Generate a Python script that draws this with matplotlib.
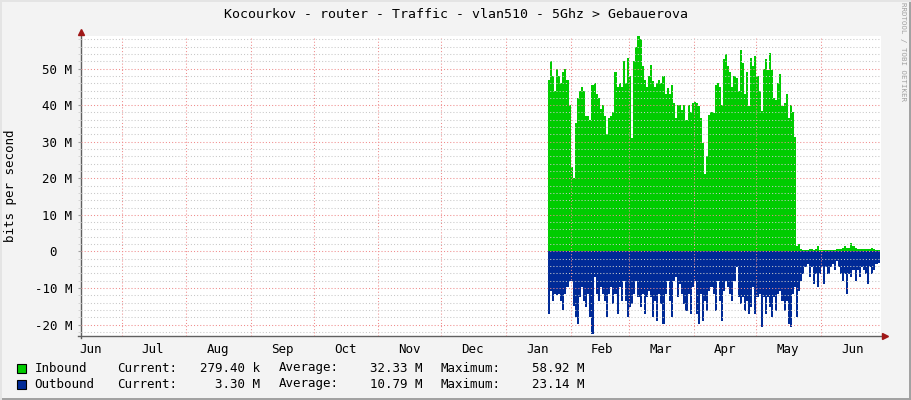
import matplotlib.pyplot as plt
import matplotlib.dates as mdates
import numpy as np
import pandas as pd
from matplotlib.lines import Line2D
from matplotlib.patches import Rectangle

title = "Kocourkov - router - Traffic - vlan510 - 5Ghz > Gebauerova"
start = "2023-01-21"  # first day with data

# daily values in Mbit/s
inbound = [
    47, 52, 48, 44, 50, 48, 46, 49, 50, 47,
    40, 23, 20, 35, 42, 44, 45, 44, 37, 37,
    36, 45.6, 46, 43, 42, 39, 40, 37, 32, 36.5,
    37, 38, 49, 45, 46, 45, 52, 46, 53, 48,
    31, 52, 56, 58.92, 58, 50.6, 47, 45, 48, 51,
    46.5, 45, 46, 47, 46, 48, 43, 44.7, 43, 45.6,
    40.5, 36.4, 40, 40, 38.7, 40, 36, 40, 38, 40.5,
    41, 40.5, 39.7, 36.4, 29.6, 21.3, 26, 37.4, 38,
    37.8, 45.6, 46, 45, 40, 52.5, 54, 50.6, 49, 45, 48,
    47.4, 44, 55.2, 51.6, 43, 49, 39.7, 53, 50.6, 53.4,
    48, 44, 38.3, 50, 52.5, 49.7, 54.3, 49.7, 42, 41.5,
    46, 48.4, 39.7, 40.5, 43, 36.4, 40, 38, 31.4,
    1.5, 1.9, 0.6, 0.5, 0.4, 0.5, 0.6, 0.6, 0.5, 0.6,
    1.4, 0.5, 0.4, 0.5, 0.4, 0.5, 0.5, 0.5, 0.5, 0.6,
    0.6, 0.7, 0.9, 1.5, 0.8, 0.9, 2.4, 1.5, 0.8, 0.6,
    0.6, 0.6, 0.7, 0.7, 0.7, 0.6, 0.9, 0.7, 0.5, 0.28,
]
outbound = [
    17, 10.7, 13.5, 11.6, 12, 11.6, 13.5, 16, 11.6, 9.8,
    8, 8, 14.8, 18, 19.9, 12.5, 9.8, 13.5, 15.3, 11.6,
    18, 22.5, 7, 11.6, 13.5, 9.8, 11.6, 13.5, 18, 11.6,
    9.8, 14.4, 11.6, 17, 9.8, 13.5, 8, 13.5, 18,
    15.3, 14.4, 11.6, 8, 12.5, 15.3, 11.6, 17, 12.5, 10.7, 12.5,
    18, 13.5, 19, 11.6, 14.4, 19.9, 11.6, 8, 13.5, 18,
    8, 7, 12.5, 8.9, 11.6, 14.4, 16.2, 11.6, 17, 9.8,
    8, 17, 19.9, 11.6, 19, 13.5, 16.2, 10.7, 9.8,
    11.6, 16.2, 8, 13.5, 19, 10.7, 8, 9.8, 11.6, 13.5, 8,
    4.3, 12.5, 14.4, 12.5, 16.2, 13.5, 17, 15.3, 9.8, 17,
    12.5, 11.6, 20.8, 12.5, 17, 12.5, 15.3, 18, 12.5, 16.2,
    11.6, 10.7, 13.5, 16.2, 13.5, 19.9, 20.8, 11.6, 9.8,
    18, 10.7, 8, 6.1, 4.3, 3.4, 7, 4.3, 8.9, 6.1,
    9.8, 6.1, 4.3, 8.9, 4.3, 6.1, 4.3, 3.4, 5.2, 2.5,
    4.3, 6.1, 8, 6.1, 11.6, 6.1, 7, 5.2, 8, 5.2,
    7, 4.3, 5.2, 6.1, 8.9, 4.3, 6.1, 5.2, 3.4, 3.3,
]

y_ticks = [-20, -10, 0, 10, 20, 30, 40, 50]
y_labels = ["-20 M", "-10 M", "0  ", "10 M", "20 M", "30 M", "40 M", "50 M"]

names = ["Inbound", "Outbound"]
colors = ["#00CC00", "#002A97"]
current = ["279.40 k", "3.30 M"]
average = ["32.33 M", "10.79 M"]
maximum = ["58.92 M", "23.14 M"]

plt.rcParams["font.family"] = ["DejaVu Sans Mono"]

W, H = 911, 400
fig = plt.figure(figsize=(W / 100, H / 100), dpi=100, facecolor="#F3F3F3")
ax = fig.add_axes([80.7 / W, 1 - 336 / H, (881 - 80.7) / W, 300 / H])
ax.set_facecolor("white")


def steps(vals):
    d = pd.Timestamp(start) + pd.to_timedelta(np.arange(len(vals) + 1), unit="D")
    return d.to_numpy(), np.append(vals, vals[-1])


x_in, y_in = steps(inbound)
x_out, y_out = steps(outbound)
ax.fill_between(x_in, 0, y_in, step="post", color=colors[0], lw=0)
ax.fill_between(x_out, 0, -y_out, step="post", color=colors[1], lw=0)

jul = pd.Timestamp("2022-07-01")
ax.set_xlim(mdates.date2num(jul - pd.Timedelta(days=19.6)),
            mdates.date2num(jul + pd.Timedelta(days=363.65)))
ax.set_ylim(-23.14, 58.92)

# month boundaries as grid, names centred in the month
ax.xaxis.set_major_locator(mdates.MonthLocator())
ax.xaxis.set_major_formatter(plt.NullFormatter())
ax.xaxis.set_minor_locator(mdates.MonthLocator(bymonthday=16))
ax.xaxis.set_minor_formatter(mdates.DateFormatter("%b"))
ax.tick_params(axis="x", which="both", length=0, labelsize=9, pad=5)

ax.set_yticks(y_ticks, y_labels)
ax.set_yticks([v for v in range(-22, 59, 2) if v % 10], minor=True)
ax.tick_params(axis="y", which="major", length=2, color="#A0A0A0", labelsize=9, pad=4)
ax.tick_params(axis="y", which="minor", length=2, color="#D0D0D0")

ax.set_axisbelow(False)
ax.grid(which="major", color="#F08C8C", ls=(0, (1, 2)), lw=0.75)
ax.grid(which="minor", axis="y", color="#C8C8C8", ls=(0, (1, 2)), lw=0.75)

for s in ["top", "right", "left", "bottom"]:
    ax.spines[s].set_visible(False)

# axis lines with arrows
ax.add_line(Line2D([0, 0], [-0.005, 1.01], transform=ax.transAxes, color="#606060",
                   lw=1, clip_on=False))
ax.add_line(Line2D([-0.003, 1.004], [0, 0], transform=ax.transAxes, color="#606060",
                   lw=1, clip_on=False))
ax.plot([0], [1.015], marker="^", ms=5, color="#A01818", transform=ax.transAxes,
        clip_on=False)
ax.plot([1.005], [0], marker=">", ms=5, color="#A01818", transform=ax.transAxes,
        clip_on=False)

fig.text(0.5, 1 - 14.5 / H, title, ha="center", va="center", fontsize=9.5)
fig.text(11 / W, 1 - 186 / H, "bits per second", rotation=90, ha="center",
         va="center", fontsize=9)
fig.text(902.7 / W, 1 - 52 / H, "RRDTOOL / TOBI OETIKER", rotation=-90,
         ha="center", va="center", fontsize=5.3, color="#A0A0A0")

# legend
for i in range(len(names)):
    yc = 368 + 16 * i
    fig.add_artist(Rectangle((17 / W, 1 - (yc + 5) / H), 9 / W, 9 / H,
                             transform=fig.transFigure, facecolor=colors[i],
                             edgecolor="black", lw=0.8))
    yy = 1 - yc / H
    fig.text(34.5 / W, yy, names[i], va="center", fontsize=9)
    fig.text(117 / W, yy, "Current:", va="center", fontsize=9)
    fig.text(260 / W, yy, current[i], va="center", ha="right", fontsize=9)
    fig.text(279 / W, yy, "Average:", va="center", fontsize=9)
    fig.text(422.6 / W, yy, average[i], va="center", ha="right", fontsize=9)
    fig.text(440.6 / W, yy, "Maximum:", va="center", fontsize=9)
    fig.text(585 / W, yy, maximum[i], va="center", ha="right", fontsize=9)

# frame around the image
fig.add_artist(Line2D([0, 1], [0.8 / H] * 2, transform=fig.transFigure,
                      color="#A0A0A0", lw=1.4))
fig.add_artist(Line2D([1 - 1.2 / W] * 2, [0, 1], transform=fig.transFigure,
                      color="#A0A0A0", lw=1.4))
fig.add_artist(Line2D([0, 1], [1 - 0.8 / H] * 2, transform=fig.transFigure,
                      color="#E4E4E4", lw=1.4))
fig.add_artist(Line2D([0.8 / W] * 2, [0, 1], transform=fig.transFigure,
                      color="#E4E4E4", lw=1.4))

fig.savefig("out.png", dpi=100, facecolor=fig.get_facecolor())
